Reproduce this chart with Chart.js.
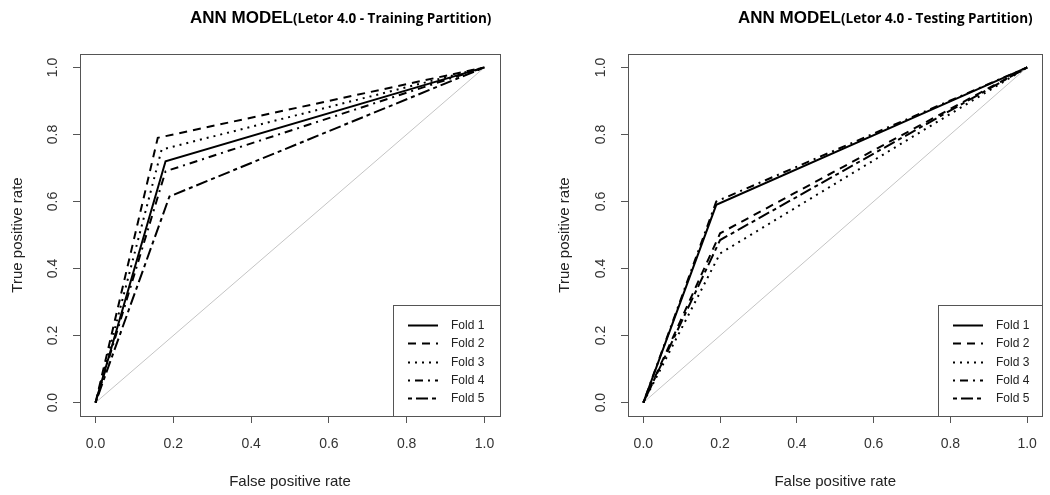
<!DOCTYPE html>
<html>
<head>
<meta charset="utf-8">
<script src="https://cdn.jsdelivr.net/npm/chart.js@4/dist/chart.umd.min.js"></script>
<style>
  body { margin: 0; background: #fff; width: 1050px; height: 495px; position: relative; overflow: hidden; }
  canvas { position: absolute; top: 0; }
</style>
</head>
<body>
<canvas id="roc-train" width="525" height="495" style="left:0"></canvas>
<canvas id="roc-test" width="503" height="495" style="left:547px"></canvas>
<script>
// ROC points per fold: (0,0) -> (fpr, tpr) -> (1,1)
const foldLabels = ['Fold 1', 'Fold 2', 'Fold 3', 'Fold 4', 'Fold 5']
const trainFpr = [0.18, 0.16, 0.17, 0.18, 0.19]
const trainTpr = [0.72, 0.79, 0.755, 0.69, 0.615]
const testFpr = [0.19, 0.2, 0.2, 0.19, 0.2]
const testTpr = [0.59, 0.505, 0.445, 0.6, 0.485]
const tickValues = [0, 0.2, 0.4, 0.6, 0.8, 1.0]
const chanceLine = [0, 1]

const FONT = '"Liberation Sans", Arial, sans-serif'
Chart.defaults.font.family = FONT
Chart.defaults.color = '#333'

// R lty: solid, dashed, dotted, dotdash, twodash (lwd 2)
const foldDashes = [[], [8, 6], [2, 5], [2, 5, 8, 5], [4, 4, 12, 4]]

const BOX_TOP = 54
const BOX_BOTTOM = 416

// box around plot, legend inside bottom-right, two-font title
const rFrame = {
  id: 'rFrame',
  afterDraw(chart, args, opts) {
    const { ctx, chartArea: a } = chart
    ctx.save()
    ctx.strokeStyle = '#555'
    ctx.lineWidth = 1
    const L = Math.round(a.left), T = Math.round(a.top)
    const R = Math.round(a.right), B = Math.round(a.bottom)
    ctx.strokeRect(L + 0.5, T + 0.5, R - L, B - T)

    // legend
    const lw = opts.legendWidth, lh = 111
    const lx = R - lw, ly = B - lh
    ctx.fillStyle = '#fff'
    ctx.fillRect(lx, ly, lw, lh)
    ctx.strokeRect(lx + 0.5, ly + 0.5, lw, lh)
    ctx.font = '12px ' + FONT
    ctx.textBaseline = 'middle'
    chart.data.datasets
      .filter(ds => foldLabels.includes(ds.label))
      .forEach((ds, i) => {
        const y = Math.round(ly + 20 + i * 18.3) + 0.5
        ctx.strokeStyle = '#000'
        ctx.lineWidth = 2
        ctx.setLineDash(ds.borderDash)
        ctx.beginPath()
        ctx.moveTo(lx + 15, y)
        ctx.lineTo(lx + 45, y)
        ctx.stroke()
        ctx.setLineDash([])
        ctx.fillStyle = '#222'
        ctx.fillText(ds.label, lx + 58, y)
      })

    // title
    ctx.fillStyle = '#000'
    ctx.textBaseline = 'alphabetic'
    ctx.font = 'bold 17px ' + FONT
    const tx = L + 110
    ctx.fillText('ANN MODEL', tx, 23)
    const w = ctx.measureText('ANN MODEL').width
    ctx.font = 'bold 13.5px "Open Sans", Lato, sans-serif'
    ctx.fillText(opts.subtitle, tx + w, 23)
    ctx.restore()
  },
}

function makeRoc(id, fpr, tpr, subtitle, boxLeft, boxRight, legendWidth) {
  const canvas = document.getElementById(id)
  const datasets = foldLabels.map((label, i) => ({
    label,
    data: [
      { x: 0, y: 0 },
      { x: fpr[i], y: tpr[i] },
      { x: 1, y: 1 },
    ],
    borderColor: '#000',
    borderWidth: 2,
    borderDash: foldDashes[i],
    pointRadius: 0,
    showLine: true,
    tension: 0,
  }))
  datasets.push({
    label: 'chance',
    data: chanceLine.map(v => ({ x: v, y: v })),
    borderColor: '#c4c4c4',
    borderWidth: 1,
    pointRadius: 0,
    showLine: true,
  })

  const axis = (title, isY) => ({
    type: 'linear',
    min: -0.04,
    max: 1.04,
    afterBuildTicks: scale => {
      scale.ticks = tickValues.map(value => ({ value }))
    },
    afterFit: scale => {
      if (isY) scale.width = boxLeft
      else scale.height = 495 - BOX_BOTTOM
    },
    border: { display: false },
    grid: {
      drawOnChartArea: false,
      drawTicks: true,
      tickLength: 7,
      tickColor: '#555',
    },
    ticks: {
      callback: v => v.toFixed(1),
      font: { size: 14 },
      color: '#333',
      padding: isY ? 10 : 13,
      minRotation: isY ? 90 : 0,
      maxRotation: isY ? 90 : 0,
      crossAlign: isY ? 'center' : 'near',
    },
    title: {
      display: true,
      text: title,
      font: { size: 15 },
      color: '#222',
      padding: isY ? { top: 9 } : { bottom: 4 },
    },
  })

  return new Chart(canvas.getContext('2d'), {
    type: 'scatter',
    data: { datasets },
    options: {
      responsive: false,
      animation: false,
      layout: {
        padding: { left: 0, top: BOX_TOP, right: canvas.width - boxRight, bottom: 0 },
      },
      plugins: {
        legend: { display: false },
        tooltip: { enabled: false },
        rFrame: { subtitle, legendWidth },
      },
      scales: {
        x: axis('False positive rate', false),
        y: axis('True positive rate', true),
      },
    },
    plugins: [rFrame],
  })
}

makeRoc('roc-train', trainFpr, trainTpr, '(Letor 4.0 - Training Partition)', 80, 500, 107)
makeRoc('roc-test', testFpr, testTpr, '(Letor 4.0 - Testing Partition)', 81, 499, 104)
</script>
</body>
</html>
